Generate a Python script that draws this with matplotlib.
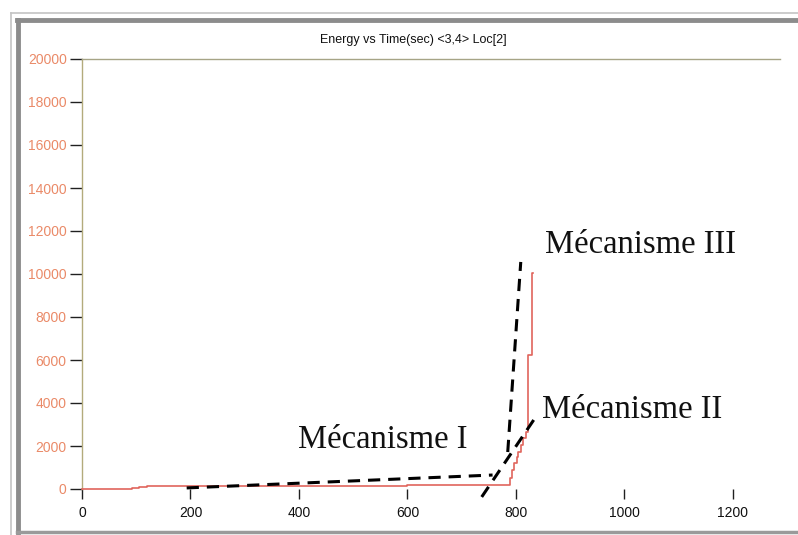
import matplotlib
matplotlib.use("Agg")
import matplotlib.pyplot as plt
from matplotlib.lines import Line2D

# Cumulative acoustic energy (step record)
time_s = [0, 92, 105, 120, 300, 600, 789, 793, 796, 802, 804, 809, 813, 818, 822, 829, 832]
energy = [0, 40, 90, 130, 150, 180, 510, 880, 1200, 1500, 1720, 2050, 2370, 2650, 6230, 10050, 10050]

x_ticks = [0, 200, 400, 600, 800, 1000, 1200]
y_ticks = [0, 2000, 4000, 6000, 8000, 10000, 12000, 14000, 16000, 18000, 20000]

# Trend lines for the three mechanisms (time, energy end points)
mech_I_t = [193, 757]
mech_I_e = [50, 650]
mech_II_t = [737, 839]
mech_II_e = [-370, 3440]
mech_III_t = [785, 809]
mech_III_e = [1720, 10560]

mech_labels = ["Mécanisme I", "Mécanisme II", "Mécanisme III"]
mech_label_pos = [(398, 2280), (848, 3670), (853, 11350)]

W, H = 798, 535
fig = plt.figure(figsize=(W / 100, H / 100), dpi=100)
fig.patch.set_facecolor("white")


def fx(px):
    return px / W


def fy(py):
    return 1 - py / H


# window frame
frame = [
    ((11, 798), (13, 13), "#c4c4c4", 1.2),
    ((11, 11), (13, 535), "#c4c4c4", 1.2),
    ((17, 798), (20, 20), "#8c8c8c", 3.5),
    ((18, 18), (20, 532), "#8c8c8c", 3.5),
    ((17, 798), (532, 532), "#9a9a9a", 2.5),
]
for xs, ys, c, lw in frame:
    fig.add_artist(Line2D([fx(v) for v in xs], [fy(v) for v in ys],
                          color=c, lw=lw, transform=fig.transFigure))

ax = fig.add_axes([fx(82), fy(489), fx(780) - fx(82), fy(59) - fy(489)])
ax.set_facecolor("white")
ax.set_xlim(0, 1287)
ax.set_ylim(0, 20000)

for s in ["right", "bottom"]:
    ax.spines[s].set_visible(False)
ax.spines["left"].set_color("#b3ab7c")
ax.spines["top"].set_color("#a6a486")
ax.spines["left"].set_linewidth(1.0)
ax.spines["top"].set_linewidth(1.0)

ax.set_xticks(x_ticks)
ax.set_yticks(y_ticks)
ax.tick_params(axis="y", direction="out", length=9, width=1.0, color="#202020",
               labelcolor="#ea8a68", labelsize=10, pad=2)
ax.tick_params(axis="x", direction="out", length=7, width=1.0, color="#202020",
               labelcolor="#111111", labelsize=10, pad=5)
for lab in ax.get_xticklabels() + ax.get_yticklabels():
    lab.set_fontfamily("Liberation Sans")

ax.plot(time_s, energy, drawstyle="steps-post", color="#e0655c", lw=1.2,
        clip_on=False, zorder=3)

dash_kw = dict(color="black", lw=2.2, dashes=(4, 2.6), clip_on=False, zorder=4)
ax.plot(mech_I_t, mech_I_e, **dash_kw)
ax.plot(mech_II_t, mech_II_e, **dash_kw)
ax.plot(mech_III_t, mech_III_e, **dash_kw)

for txt, (tx, ty) in zip(mech_labels, mech_label_pos):
    ax.text(tx, ty, txt, fontsize=23.5, family="Liberation Serif",
            ha="left", va="center", color="#111111", zorder=5)

fig.text(fx(413), fy(40), "Energy vs Time(sec) <3,4> Loc[2]", fontsize=9,
         family="Liberation Sans", ha="center", va="center", color="#111111")

fig.savefig("out.png", dpi=100)
